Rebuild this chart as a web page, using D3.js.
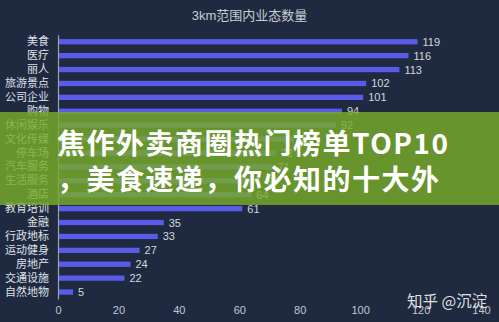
<!DOCTYPE html>
<html>
<head>
<meta charset="utf-8">
<script src="https://cdn.jsdelivr.net/npm/d3@7"></script>
<style>
  html, body { margin: 0; padding: 0; background: #1f2a40; }
  svg { display: block; }
</style>
</head>
<body>
<svg id="chart" width="499" height="322"></svg>
<script>
// Number of businesses of each type within 3 km
const categories = ["美食", "医疗", "丽人", "旅游景点", "公司企业", "购物", "休闲娱乐", "文化传媒", "停车场",
  "汽车服务", "生活服务", "酒店", "教育培训", "金融", "行政地标", "运动健身", "房地产", "交通设施", "自然地物"];
const counts = [119, 116, 113, 102, 101, 94, 92, 78, 72, 71, 67, 64, 61, 35, 33, 27, 24, 22, 5];
const xTicks = [0, 20, 40, 60, 80, 100, 120, 140];
const titleText = "3km范围内业态数量";
const bannerLines = ["焦作外卖商圈热门榜单TOP10", "，美食速递，你必知的十大外"];
const watermark = "知乎 @沉淀";

const W = 499, H = 322;
const margin = { left: 58, right: 18, top: 34.8, bottom: 23 };
const latin = "'Liberation Sans', 'Noto Sans CJK SC', sans-serif";
const cjk = "'Noto Sans CJK SC', sans-serif";

const svg = d3.select("#chart");
svg.append("rect").attr("width", W).attr("height", H).attr("fill", "#1f2a40");

const x = d3.scaleLinear().domain([0, 140]).range([margin.left, W - margin.right]);
const y = d3.scaleBand().domain(categories)
  .range([margin.top, H - margin.bottom])
  .paddingInner(0.62).paddingOuter(0.31);

// title
svg.append("text")
  .attr("x", 249.5).attr("y", 15.5)
  .attr("text-anchor", "middle").attr("dominant-baseline", "central")
  .attr("font-family", latin).attr("font-size", 13)
  .attr("fill", "#c9ccd3")
  .text(titleText);

// bars
svg.append("g").selectAll("rect")
  .data(categories)
  .join("rect")
  .attr("x", x(0))
  .attr("y", d => y(d))
  .attr("width", (d, i) => x(counts[i]) - x(0))
  .attr("height", y.bandwidth())
  .attr("fill", "#5a5be9");

// value labels
svg.append("g").selectAll("text")
  .data(categories)
  .join("text")
  .attr("x", (d, i) => x(counts[i]) + 5)
  .attr("y", d => y(d) + y.bandwidth() / 2)
  .attr("dominant-baseline", "central")
  .attr("font-family", latin).attr("font-size", 11)
  .attr("fill", "#d4d6dc")
  .text((d, i) => counts[i]);

// category axis
const yAxis = svg.append("g")
  .attr("transform", `translate(${x(0)},0)`)
  .call(d3.axisLeft(y).tickSize(0).tickPadding(9));
yAxis.select(".domain").attr("stroke", "#9ea3ad").attr("stroke-width", 1.2);
yAxis.selectAll("text")
  .attr("font-family", cjk).attr("font-size", 11)
  .attr("fill", "#dfe1e6");

// value axis
const xAxis = svg.append("g")
  .attr("transform", `translate(0,${H - margin.bottom})`)
  .call(d3.axisBottom(x).tickValues(xTicks).tickSize(0).tickPadding(7));
xAxis.select(".domain").remove();
xAxis.selectAll("text")
  .attr("font-family", latin).attr("font-size", 11)
  .attr("fill", "#c3c6ce");

// promotional banner across the middle
const banner = svg.append("g");
banner.append("rect")
  .attr("x", 0).attr("y", 112).attr("width", W).attr("height", 93)
  .attr("fill", "rgb(120,172,42)").attr("fill-opacity", 0.82);
banner.selectAll("text")
  .data(bannerLines)
  .join("text")
  .attr("x", 57)
  .attr("y", (d, i) => 142 + i * 36)
  .attr("dominant-baseline", "central")
  .attr("font-family", cjk).attr("font-weight", 700).attr("font-size", 28)
  .attr("letter-spacing", 1.5)
  .attr("fill", "#ffffff")
  .text(d => d);

// watermark
svg.append("text")
  .attr("x", 407).attr("y", 300)
  .attr("dominant-baseline", "central")
  .attr("font-family", cjk).attr("font-size", 15.5)
  .attr("fill", "#f2f2f2").attr("fill-opacity", 0.92)
  .text(watermark);
</script>
</body>
</html>
